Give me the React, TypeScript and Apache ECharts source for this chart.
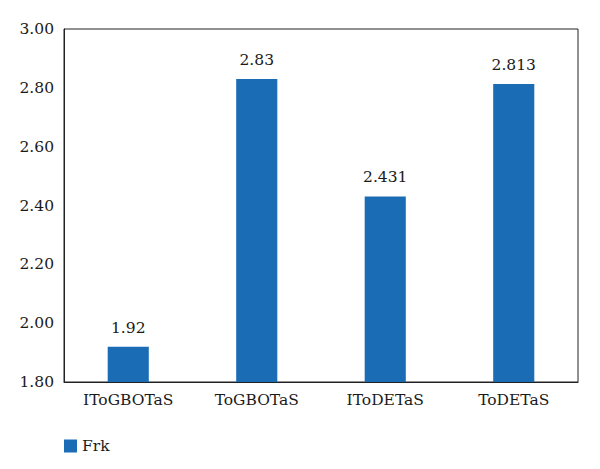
import React, { useEffect, useRef } from "react";
import * as echarts from "echarts";

const categories = ["IToGBOTaS", "ToGBOTaS", "IToDETaS", "ToDETaS"];
const frkValues = [1.92, 2.83, 2.431, 2.813];
const frkLabels = ["1.92", "2.83", "2.431", "2.813"];
const seriesName = "Frk";

export default function App() {
  const ref = useRef<HTMLDivElement>(null);
  useEffect(() => {
    const chart = echarts.init(ref.current!, null, { renderer: "svg" });
    const font = "DejaVu Serif";
    const fs = 15.5;
    chart.setOption({
      animation: false,
      backgroundColor: "#ffffff",
      textStyle: { fontFamily: font },
      grid: {
        left: 64,
        right: 22,
        top: 29,
        bottom: 87,
        show: true,
        borderColor: "#222",
        borderWidth: 1,
        backgroundColor: "transparent",
      },
      legend: {
        left: 59,
        top: 433,
        itemWidth: 13,
        itemHeight: 13,
        itemGap: 10,
        icon: "rect",
        textStyle: { fontFamily: font, fontSize: fs, color: "#1a1a1a" },
        data: [seriesName],
      },
      xAxis: {
        type: "category",
        data: categories,
        axisLine: { show: true, lineStyle: { color: "#222", width: 1 } },
        axisTick: { show: false },
        axisLabel: {
          fontFamily: font,
          fontSize: fs,
          color: "#1a1a1a",
          margin: 10,
          interval: 0,
        },
      },
      yAxis: {
        type: "value",
        min: 1.8,
        max: 3.0,
        interval: 0.2,
        axisLine: { show: true, lineStyle: { color: "#222", width: 1 } },
        axisTick: { show: false },
        splitLine: { show: false },
        axisLabel: {
          fontFamily: font,
          fontSize: fs,
          color: "#1a1a1a",
          margin: 10,
          formatter: (v: number) => v.toFixed(2),
        },
      },
      series: [
        {
          name: seriesName,
          type: "bar",
          data: frkValues,
          barWidth: "32%",
          itemStyle: { color: "#1a6db5" },
          label: {
            show: true,
            position: "top",
            distance: 11,
            fontFamily: font,
            fontSize: fs,
            color: "#1a1a1a",
            formatter: (p: any) => frkLabels[p.dataIndex],
          },
        },
      ],
    });
    return () => chart.dispose();
  }, []);
  return (
    <div
      ref={ref}
      style={{ position: "fixed", left: 0, top: 0, width: 600, height: 469 }}
    />
  );
}
